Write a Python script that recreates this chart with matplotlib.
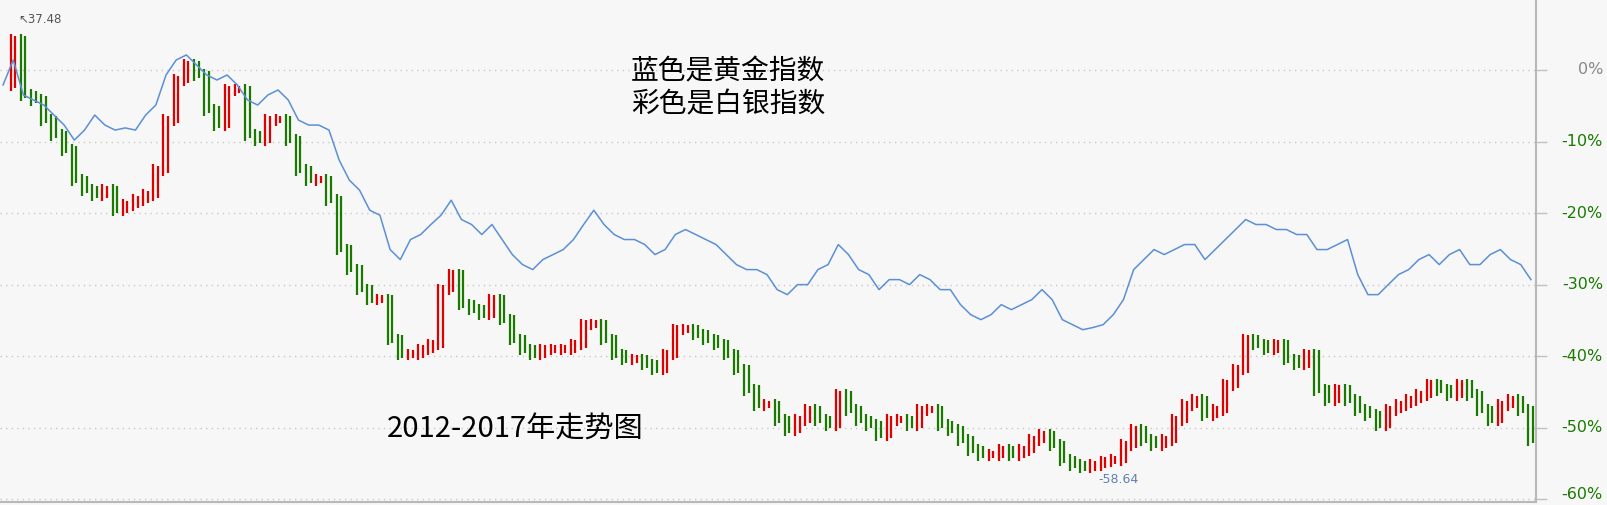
import matplotlib
matplotlib.use("Agg")
import matplotlib.pyplot as plt
import matplotlib.transforms as mtransforms
import numpy as np

plt.rcParams['font.family'] = ['Noto Sans CJK SC', 'DejaVu Sans']

gold = [-2.1, 1.4, -3.5, -4.2, -4.9, -6.3, -7.7, -9.8, -8.4, -6.3, -7.7, -8.4, -8.1, -8.4, -6.3, -4.9,
        -0.7, 1.4, 2.1, 0.7, -0.7, -1.4, -0.7, -2.1, -4.2, -4.9, -3.5, -2.8, -4.2, -7.0, -7.7, -7.7,
        -8.4, -12.6, -15.4, -16.8, -19.6, -20.3, -25.1, -26.5, -23.7, -23.0, -21.6, -20.3, -18.2, -20.9,
        -21.6, -23.0, -21.6, -23.7, -25.8, -27.2, -27.9, -26.5, -25.8, -25.1, -23.7, -21.6, -19.6, -21.6,
        -23.0, -23.7, -23.7, -24.4, -25.8, -25.1, -23.0, -22.3, -23.0, -23.7, -24.4, -25.8, -27.2, -27.9,
        -27.9, -28.6, -30.7, -31.4, -30.0, -30.0, -27.9, -27.2, -24.4, -25.8, -27.9, -28.6, -30.7, -29.3,
        -29.3, -30.0, -28.6, -29.3, -30.7, -30.7, -32.8, -34.2, -34.9, -34.2, -32.8, -33.5, -32.8, -32.1,
        -30.7, -32.1, -34.9, -35.6, -36.3, -36.0, -35.6, -34.2, -32.1, -27.9, -26.5, -25.1, -25.8, -25.1,
        -24.4, -24.4, -26.5, -25.1, -23.7, -22.3, -20.9, -21.6, -21.6, -22.3, -22.3, -23.0, -23.0, -25.1,
        -25.1, -24.4, -23.7, -28.6, -31.4, -31.4, -30.0, -28.6, -27.9, -26.5, -25.8, -27.2, -25.8, -25.1,
        -27.2, -27.2, -25.8, -25.1, -26.5, -27.2, -29.3]

silver = [-2.1, 4.2, -3.5, -4.2, -7.0, -9.1, -11.2, -15.4, -16.8, -17.5, -16.8, -19.6, -18.9, -18.2,
          -17.5, -14.0, -7.0, -1.4, 0.7, -0.7, -5.6, -7.7, -2.8, -2.8, -9.1, -9.8, -7.0, -7.0, -9.8,
          -14.0, -15.4, -15.4, -18.2, -25.1, -27.9, -30.7, -32.1, -32.1, -37.7, -39.8, -39.8, -39.1,
          -38.4, -30.7, -28.6, -32.8, -33.5, -34.2, -32.1, -34.9, -37.7, -39.1, -39.8, -39.1, -39.1,
          -39.1, -38.4, -35.6, -35.6, -37.7, -39.8, -40.5, -40.5, -41.2, -41.9, -39.8, -36.3, -36.3,
          -37.0, -37.7, -38.4, -39.8, -41.9, -44.7, -46.8, -46.8, -48.9, -50.3, -48.9, -47.5, -48.9,
          -49.6, -45.4, -47.5, -48.9, -49.6, -51.0, -48.9, -48.9, -49.6, -47.5, -47.5, -49.6, -50.3,
          -51.7, -53.1, -53.8, -53.8, -53.1, -53.8, -53.1, -51.7, -51.0, -52.4, -54.5, -55.2, -55.6,
          -55.2, -54.7, -54.5, -52.4, -50.3, -51.7, -52.4, -51.7, -48.9, -46.8, -46.1, -48.2, -47.5,
          -44.0, -41.9, -37.7, -38.4, -39.1, -38.4, -40.5, -41.2, -39.8, -44.7, -46.1, -44.7, -46.1,
          -47.5, -48.2, -49.6, -47.5, -46.8, -46.1, -45.4, -44.0, -44.7, -45.4, -44.0, -45.4, -47.5,
          -48.9, -46.8, -46.1, -47.5, -51.7]

ticks = [0, -10, -20, -30, -40, -50, -60]
tick_labels = ['0%', '-10%', '-20%', '-30%', '-40%', '-50%', '-60%']

bg = '#f7f7f7'
fig = plt.figure(figsize=(16.08, 5.05), dpi=100, facecolor=bg)
ax = fig.add_axes([0, 0.005, 1536/1608, 0.995], facecolor=bg)

x = np.arange(len(gold))
ax.plot(x, gold, color='#5b8fd6', lw=1.1, zorder=3)

xs = np.arange(len(silver))
for i in range(1, len(silver)):
    o, c = silver[i-1], silver[i]
    col = '#e00000' if c >= o else '#1a7a00'
    lo, hi = min(o, c) - 0.8, max(o, c) + 0.8
    ax.vlines(xs[i] - 0.25, lo, hi, color=col, lw=1.6, zorder=2)
    ax.vlines(xs[i] + 0.2, lo + 0.4, hi - 0.2, color=col, lw=1.6, zorder=2)

ax.set_xlim(-0.3, len(gold) - 0.5)
ax.set_ylim(-60.45, 9.78)
for t in ticks:
    ax.axhline(t, color='#c8c8c8', lw=1, ls=(0, (1, 3)), zorder=1)
ax.set_yticks(ticks)
ax.set_yticklabels([])
ax.yaxis.tick_right()
ax.set_xticks([])
ax.tick_params(axis='y', colors='#c0c0c0', length=8, width=1)
trans = mtransforms.blended_transform_factory(fig.transFigure, ax.transData)
for t, lab in zip(ticks, tick_labels):
    yy = t + 0.6 if t == -60 else t
    fig.text(1603/1608, yy, lab, transform=trans, ha='right', va='center', fontsize=11.5,
             color='#888888' if t == 0 else '#1a7a00', family=['DejaVu Sans'])
for s in ['top', 'left']:
    ax.spines[s].set_visible(False)
ax.spines['right'].set_color('#b8b8b8')
ax.spines['bottom'].set_color('#b8b8b8')
ax.spines['right'].set_linewidth(1.5)
ax.spines['bottom'].set_linewidth(1.5)

ax.text(0.012, 0.975, '↖37.48', transform=ax.transAxes, fontsize=8.5, color='#555555',
        family=['DejaVu Sans'], va='top')
ax.text(0.715, 0.045, '-58.64', transform=ax.transAxes, fontsize=9, color='#6080b0',
        family=['DejaVu Sans'], va='center')
fig.text(728/1608, 1 - 88/505, '蓝色是黄金指数\n彩色是白银指数', fontsize=20, ha='center',
         va='center', linespacing=1.15, color='black')
fig.text(387/1608, 1 - 430/505, '2012-2017年走势图', fontsize=21, ha='left', va='center',
         color='black', fontweight='medium')

fig.savefig('out.png', dpi=100, facecolor=bg)
